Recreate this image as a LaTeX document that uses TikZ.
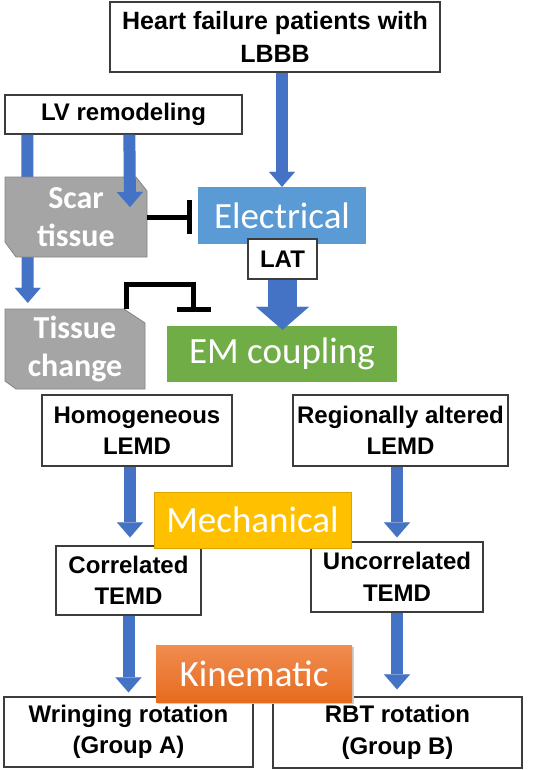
\documentclass[tikz,border=0pt]{standalone}
\usepackage{fontspec}
\setmainfont{Liberation Sans}
\newfontfamily\calfont{Carlito}
\usetikzlibrary{arrows.meta}
\definecolor{arrowblue}{RGB}{68,114,196}
\definecolor{elecblue}{RGB}{91,155,213}
\definecolor{emgreen}{RGB}{112,173,71}
\definecolor{mechyellow}{RGB}{255,192,0}
\definecolor{kintop}{RGB}{241,140,80}
\definecolor{kinbot}{RGB}{230,108,30}
\definecolor{scargray}{RGB}{165,165,165}
\definecolor{boxline}{RGB}{60,60,60}
\begin{document}
\begin{tikzpicture}[x=1pt,y=-1pt,
  wbox/.style={draw=boxline, line width=1.3pt, fill=white, inner sep=0pt, align=center,
    font=\bfseries\fontsize{24}{31.5}\selectfont},
  cbox/.style={inner sep=0pt, align=center, text=white, font=\calfont\fontsize{37}{40}\selectfont},
  gshape/.style={fill=scargray, draw=scargray!80!black, line width=0.8pt},
  gtext/.style={inner sep=0pt, align=center, text=white,
    font=\calfont\bfseries\fontsize{32}{38.5}\selectfont},
  barrow/.style={draw=arrowblue, line width=12pt, -{Triangle[width=26pt,length=15pt,line width=0.01pt]}},
  widearrow/.style={draw=arrowblue, line width=29pt, -{Triangle[width=53pt,length=23pt,line width=0.01pt]}},
  inhib/.style={draw=black, line width=5pt, -{Bar[width=34pt,line width=5pt]}}
]
\useasboundingbox (0,0) rectangle (550,770);
\fill[white] (0,0) rectangle (550,770);

% top part
\node[wbox, minimum width=330pt, minimum height=70pt, font=\bfseries\fontsize{25}{33}\selectfont] (top) at (275,37) {Heart failure patients with\\LBBB};
\node[wbox, minimum width=237pt, minimum height=39pt] (lv) at (123.5,114.5) {LV remodeling};
% tissue change shape
\path[gshape] (5,309) -- (124,309) -- (145,323) -- (145,389) -- (16,389) -- (5,381) -- cycle;
\node[gtext, minimum width=140pt, minimum height=80pt] (tc) at (75,349) {Tissue\\change};
\draw[barrow, shorten >=6pt] ([xshift=23pt]lv.south west) -- ([xshift=23pt]tc.north west);
% scar tissue shape
\path[gshape] (5,177) -- (136,177) -- (147,191) -- (147,257) -- (16,257) -- (5,242) -- cycle;
\node[gtext, minimum width=142pt, minimum height=80pt] (scar) at (76,217) {Scar\\tissue};
\coordinate (scarin) at (130,207);
\draw[barrow] ([xshift=125pt]lv.south west) -- (scarin);

\node[fill=elecblue, minimum width=168pt, minimum height=57pt, cbox] (elec) at (282,215.5) {Electrical};
\draw[barrow] (top.south -| elec.north) -- (elec.north);
\draw[inhib, shorten >=6pt] (scar.east) -- (elec.west |- scar.east);

\node[wbox, minimum width=69pt, minimum height=40pt] (lat) at (282.5,259) {LAT};
\node[fill=emgreen, minimum width=230pt, minimum height=56pt, cbox] (em) at (282,354) {EM coupling};
\draw[widearrow, shorten >=-4pt] (lat.south) -- (lat.south |- em.north);
\draw[inhib, shorten >=14pt, line join=miter] ([xshift=122pt]tc.north west) -- ++(0,-24) -| ([xshift=27pt]em.north west);

% middle part
\node[wbox, minimum width=190pt, minimum height=71pt] (hom) at (137,430.5) {Homogeneous\\LEMD};
\node[wbox, minimum width=215pt, minimum height=71pt] (reg) at (400.5,430.5) {Regionally altered\\LEMD};
\node[wbox, minimum width=145pt, minimum height=69pt] (cor) at (128.5,580.5) {Correlated\\TEMD};
\node[wbox, minimum width=172pt, minimum height=70pt] (unc) at (397,577) {Uncorrelated\\TEMD};
\draw[barrow, shorten >=8pt] ([xshift=-7pt]hom.south) -- ([xshift=-7pt]hom.south |- cor.north);
\draw[barrow, shorten >=4pt] ([xshift=-3.5pt]reg.south) -- ([xshift=-3.5pt]reg.south |- unc.north);
\node[fill=mechyellow, draw=mechyellow!85!black, line width=0.5pt, minimum width=197pt, minimum height=56pt, cbox] (mech) at (252.5,520) {Mechanical};

% bottom part
\node[wbox, minimum width=249pt, minimum height=70pt] (wri) at (128.5,732) {Wringing rotation\\(Group A)};
\node[wbox, minimum width=249pt, minimum height=71pt] (rbt) at (397.5,732.5) {RBT rotation\\(Group B)};
\draw[barrow, shorten >=4pt] (cor.south) -- (cor.south |- wri.north);
\draw[barrow, shorten >=7pt] (unc.south) -- (unc.south |- rbt.north);
\fill[black!20] (158,647) rectangle (354,704);
\node[top color=kintop, bottom color=kinbot, minimum width=196pt, minimum height=57pt, cbox] (kin) at (254,673.5) {Kinematic};
\end{tikzpicture}
\end{document}
